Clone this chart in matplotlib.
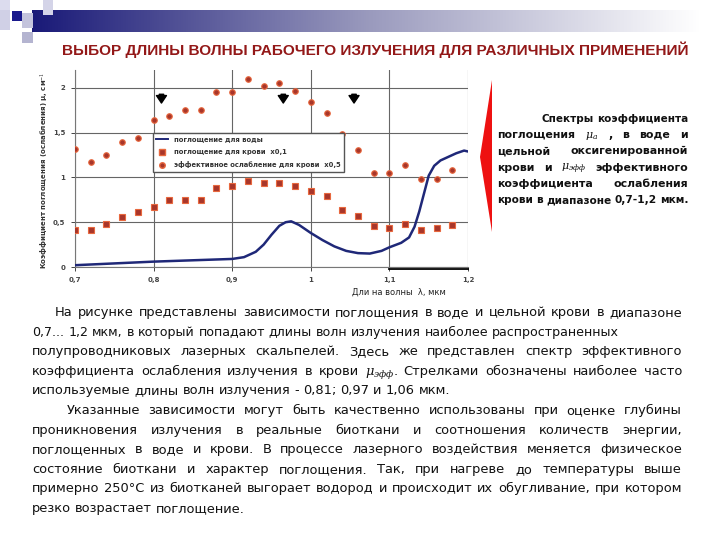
import numpy as np
import matplotlib
matplotlib.use('Agg')
import matplotlib.pyplot as plt
from matplotlib.patches import Rectangle, Polygon
from matplotlib.lines import Line2D

plt.rcParams['mathtext.fontset'] = 'dejavuserif'

W, H = 720, 540

# длины волн точек для крови, мкм
wl_pts = [0.70, 0.72, 0.74, 0.76, 0.78, 0.80, 0.82, 0.84, 0.86, 0.88, 0.90, 0.92, 0.94,
          0.96, 0.98, 1.00, 1.02, 1.04, 1.06, 1.08, 1.10, 1.12, 1.14, 1.16, 1.18]
# поглощение для крови x0,1
mu_blood = [0.41, 0.41, 0.48, 0.56, 0.61, 0.67, 0.75, 0.75, 0.75, 0.88, 0.90, 0.96, 0.94,
            0.94, 0.91, 0.85, 0.79, 0.64, 0.57, 0.46, 0.44, 0.48, 0.41, 0.44, 0.47]
# эффективное ослабление для крови x0,5
mu_eff = [1.32, 1.17, 1.25, 1.40, 1.44, 1.64, 1.69, 1.75, 1.75, 1.95, 1.95, 2.10, 2.02,
          2.06, 1.97, 1.84, 1.72, 1.49, 1.31, 1.05, 1.05, 1.14, 0.98, 0.98, 1.08]
# поглощение для воды
wl_water = [0.70, 0.75, 0.80, 0.85, 0.90, 0.915, 0.93, 0.94, 0.95, 0.96, 0.968, 0.975, 0.985,
            1.00, 1.015, 1.03, 1.045, 1.06, 1.075, 1.09, 1.10, 1.115, 1.125, 1.132, 1.138,
            1.144, 1.15, 1.157, 1.165, 1.175, 1.185, 1.195, 1.20]
mu_water = [0.02, 0.04, 0.06, 0.075, 0.09, 0.11, 0.17, 0.25, 0.36, 0.46, 0.50, 0.51, 0.47,
            0.38, 0.30, 0.23, 0.18, 0.155, 0.15, 0.18, 0.22, 0.27, 0.33, 0.45, 0.62,
            0.82, 1.02, 1.13, 1.19, 1.23, 1.27, 1.30, 1.29]
# стрелки - часто используемые длины волн
wl_arrows = [0.81, 0.965, 1.055]

xticks = [0.7, 0.8, 0.9, 1.0, 1.1, 1.2]
xlabels = ['0,7', '0,8', '0,9', '1', '1,1', '1,2']
yticks = [0, 0.5, 1, 1.5, 2]
ylabels = ['0', '0,5', '1', '1,5', '2']


def fx(x):
    return x / W


def fy(y):
    return 1 - y / H


fig = plt.figure(figsize=(7.2, 5.4), dpi=100)
fig.patch.set_facecolor('white')
rend = fig.canvas.get_renderer()

# шапка слайда
bar = fig.add_axes([fx(32), fy(32), fx(700 - 32), 22 / H])
c0 = np.array([0.10, 0.10, 0.47])
c1 = np.array([0.60, 0.60, 0.74])
c2 = np.array([1.0, 1.0, 1.0])
t = np.linspace(0, 1, 300)[:, None]
grad = np.where(t < 0.5, c0 + (c1 - c0) * (t / 0.5), c1 + (c2 - c1) * ((t - 0.5) / 0.5))
bar.imshow(grad[None, :, :], aspect='auto', extent=[0, 1, 0, 1])
bar.axis('off')

for (x, y, w, h, c) in [(0, 0, 10, 10, '#dcdcee'), (0, 10, 10, 20, '#d0d0e6'),
                        (22, 13, 11, 15, '#c4c4dc'), (22, 32, 11, 11, '#b4b4d0'),
                        (43, 0, 10, 15, '#d4d4e8'), (12, 11, 10, 10, '#1a1a8c')]:
    fig.patches.append(Rectangle((fx(x), fy(y + h)), w / W, h / H, facecolor=c,
                                 edgecolor='none', transform=fig.transFigure))

# заголовок
title = fig.text(fx(62), fy(55.5), 'ВЫБОР ДЛИНЫ ВОЛНЫ РАБОЧЕГО ИЗЛУЧЕНИЯ ДЛЯ РАЗЛИЧНЫХ ПРИМЕНЕНИЙ',
                 fontsize=12, fontweight='bold', color='#931818', family='Liberation Sans',
                 ha='left', va='baseline')
tw = title.get_window_extent(rend).width
title.set_fontsize(12 * 628 / tw)

# график
ax = fig.add_axes([fx(75), fy(267), fx(468 - 75), 197 / H])
ax.set_xlim(0.7, 1.2)
ax.set_ylim(0, 2.2)
ax.set_xticks(xticks)
ax.set_xticklabels(xlabels)
ax.set_yticks(yticks)
ax.set_yticklabels(ylabels)
ax.tick_params(labelsize=5, colors='#444444', length=3, width=0.7, pad=4)
for lab in ax.get_xticklabels() + ax.get_yticklabels():
    lab.set_fontweight('bold')
ax.grid(True, color='#666666', lw=0.8)
for s in ['top', 'right']:
    ax.spines[s].set_visible(False)
for s in ['left', 'bottom']:
    ax.spines[s].set_color('#777777')
    ax.spines[s].set_linewidth(0.8)

ax.plot(wl_water, mu_water, color='#1f2878', lw=1.8, zorder=3)
ax.plot(wl_pts, mu_blood, ls='none', marker='s', ms=4.3, mfc='#a8362a', mec='#e8683e',
        mew=0.8, zorder=4)
ax.plot(wl_pts, mu_eff, ls='none', marker='o', ms=4, mfc='#a8362a', mec='#e8683e',
        mew=0.8, zorder=4)
for xa in wl_arrows:
    ax.annotate('', xy=(xa, 1.80), xytext=(xa, 1.96),
                arrowprops=dict(arrowstyle='simple,head_length=0.6,head_width=0.8,tail_width=0.35',
                                color='black', mutation_scale=9))
ax.plot([1.1, 1.2], [-0.025, -0.025], color='black', lw=1.3, clip_on=False)

handles = [Line2D([], [], color='#1f2878', lw=1.4),
           Line2D([], [], ls='none', marker='s', ms=4, mfc='#a8362a', mec='#e8683e'),
           Line2D([], [], ls='none', marker='o', ms=4, mfc='#a8362a', mec='#e8683e')]
leg = ax.legend(handles, ['поглощение для воды', 'поглощение для крови  x0,1',
                          'эффективное ослабление для крови  x0,5'],
                loc='upper left', bbox_to_anchor=(0.198, 0.68), borderaxespad=0,
                prop=dict(size=4.9, weight='bold'), fancybox=False, edgecolor='#555555',
                framealpha=1, handlelength=1.8, labelspacing=0.95, borderpad=0.5)
for txt in leg.get_texts():
    txt.set_color('#333333')

fig.text(fx(44), fy(170), 'Коэффициент поглощения (ослабления) μ, см$^{-1}$', rotation=90,
         fontsize=5, fontweight='bold', color='#333333', ha='center', va='center')
fig.text(fx(352), fy(292), 'Дли на волны  λ, мкм', fontsize=6, color='#222222',
         ha='left', va='center')

# красная стрелка
fig.patches.append(Polygon([(fx(492), fy(80)), (fx(492), fy(232)), (fx(480), fy(157))],
                           closed=True, facecolor='#ee1111', edgecolor='none',
                           transform=fig.transFigure))


def draw_line(words, x0, x1, y, justify, size, weight='normal', color='#111111',
              family='DejaVu Sans'):
    objs = []
    for w in words:
        objs.append(fig.text(fx(x0), fy(y), w, fontsize=size, fontweight=weight, color=color,
                             family=family, ha='left', va='baseline'))
    widths = [o.get_window_extent(rend).width for o in objs]
    mingap = size * 100 / 72 * 0.3
    gap = mingap
    if justify and len(objs) > 1:
        gap = (x1 - x0 - sum(widths)) / (len(objs) - 1)
        if gap < mingap:
            # строка не влезает - уменьшаем шрифт
            k = (x1 - x0 - mingap * (len(objs) - 1)) / sum(widths)
            for o in objs:
                o.set_fontsize(size * k)
            widths = [w * k for w in widths]
            gap = (x1 - x0 - sum(widths)) / (len(objs) - 1)
    x = x0
    for o, w in zip(objs, widths):
        o.set_x(fx(x))
        x += w + gap


side = [
    (542, 'Спектры коэффициента'),
    (497, 'поглощения $\\mu_a$ , в воде и'),
    (497, 'цельной оксигенированной'),
    (497, 'крови и $\\mu_{эфф}$ эффективного'),
    (497, 'коэффициента ослабления'),
    (497, 'крови в диапазоне 0,7-1,2 мкм.'),
]
for i, (x0, s) in enumerate(side):
    draw_line(s.split(' '), x0, 688, 121.5 + 16.4 * i, True, 7.9, weight='bold')

body = [
    (55, 682, True, 'На рисунке представлены зависимости поглощения в воде и цельной крови в диапазоне'),
    (32, 618, True, '0,7... 1,2 мкм, в который попадают длины волн излучения наиболее распространенных'),
    (32, 682, True, 'полупроводниковых лазерных скальпелей. Здесь же представлен спектр эффективного'),
    (32, 682, True, 'коэффициента ослабления излучения в крови $\\mu_{эфф}$. Стрелками обозначены наиболее часто'),
    (32, 682, False, 'используемые длины волн излучения - 0,81; 0,97 и 1,06 мкм.'),
    (67, 682, True, 'Указанные зависимости могут быть качественно использованы при оценке глубины'),
    (32, 682, True, 'проникновения излучения в реальные биоткани и соотношения количеств энергии,'),
    (32, 682, True, 'поглощенных в воде и крови. В процессе лазерного воздействия меняется физическое'),
    (32, 682, True, 'состояние биоткани и характер поглощения. Так, при нагреве до температуры выше'),
    (32, 682, True, 'примерно 250°С из биотканей выгорает водород и происходит их обугливание, при котором'),
    (32, 682, False, 'резко возрастает поглощение.'),
]
for i, (x0, x1, just, s) in enumerate(body):
    draw_line(s.split(' '), x0, x1, 316 + 19.6 * i, just, 9.4)

fig.savefig('out.png', dpi=100, facecolor='white')
